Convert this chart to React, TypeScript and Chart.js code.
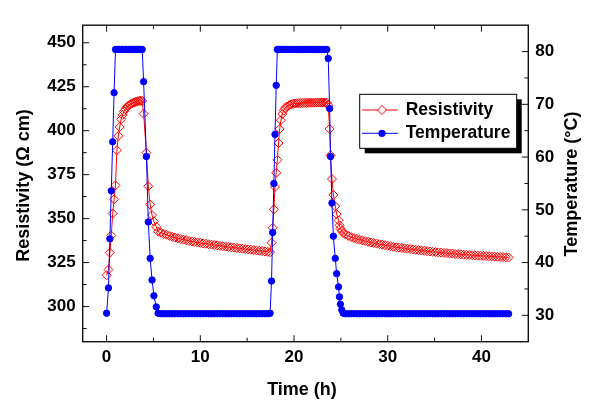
import React, { useEffect, useRef } from 'react';
import { Chart, registerables } from 'chart.js';

Chart.register(...registerables);

// ---- Data ----
// Cycle 1: heating ramp, 80 °C plateau, cooling, 30 °C relaxation
const cycle1Time = [
  0, 0.2, 0.35, 0.5, 0.65, 0.8, 0.95, 1.1, 1.25, 1.4, 1.55,
  1.7, 1.85, 2.0, 2.15, 2.3, 2.45, 2.6, 2.75, 2.9, 3.05, 3.2, 3.35, 3.5, 3.65, 3.8,
  3.95, 4.25, 4.45, 4.65, 4.85, 5.05, 5.3, 5.5,
  5.8, 6.1, 6.4, 6.7, 7.0, 7.3, 7.6, 7.9, 8.2, 8.5, 8.8, 9.1, 9.4, 9.7, 10.0, 10.3, 10.6, 10.9, 11.2, 11.5,
  11.8, 12.1, 12.4, 12.7, 13.0, 13.3, 13.6, 13.9, 14.2, 14.5, 14.8, 15.1, 15.4, 15.7, 16.0, 16.3, 16.6, 16.9, 17.2,
];
const cycle1Res = [
  317.8, 321.0, 330.6, 340.4, 352.9, 361.0, 368.9, 388.9, 397.0, 402.1, 406.5,
  409.0, 411.0, 412.3, 413.3, 414.1, 414.7, 415.2, 415.6, 416.0, 416.3, 416.6, 416.8, 417.0, 417.0, 416.9,
  409.7, 387.5, 368.4, 358.0, 352.0, 348.4, 345.3, 342.6,
  342.0, 341.3, 340.8, 340.2, 339.6, 339.2, 338.8, 338.4, 338.0, 337.7, 337.3, 337.0, 336.7, 336.4, 336.2, 335.9, 335.7, 335.4, 335.2, 335.0,
  334.8, 334.5, 334.3, 334.1, 333.9, 333.7, 333.5, 333.3, 333.1, 332.9, 332.7, 332.5, 332.3, 332.1, 331.9, 331.7, 331.5, 331.3, 331.1,
];
const cycle1Temp = [
  30.4, 35.2, 44.5, 53.6, 62.9, 72.2, 80.4, 80.4, 80.4, 80.4, 80.4,
  80.4, 80.4, 80.4, 80.4, 80.4, 80.4, 80.4, 80.4, 80.4, 80.4, 80.4, 80.4, 80.4, 80.4, 80.4,
  74.3, 60.1, 47.7, 40.8, 36.7, 33.7, 31.6, 30.4,
  30.3, 30.3, 30.3, 30.3, 30.3, 30.3, 30.3, 30.3, 30.3, 30.3, 30.3, 30.3, 30.3, 30.3, 30.3, 30.3, 30.3, 30.3, 30.3, 30.3,
  30.3, 30.3, 30.3, 30.3, 30.3, 30.3, 30.3, 30.3, 30.3, 30.3, 30.3, 30.3, 30.3, 30.3, 30.3, 30.3, 30.3, 30.3, 30.3,
];

// Cycle 2
const cycle2Time = [
  17.45, 17.6, 17.72, 17.85, 17.97, 18.1, 18.22, 18.35, 18.47, 18.6, 18.75, 18.9, 19.05, 19.2,
  19.5, 19.7, 19.9, 20.1, 20.3, 20.5, 20.7, 20.9, 21.1, 21.3, 21.5, 21.7, 21.9, 22.1, 22.3, 22.5, 22.7, 22.9, 23.1, 23.3, 23.5,
  23.65, 23.8, 23.9, 24.05, 24.2, 24.4, 24.55, 24.75, 24.85, 24.95, 25.1, 25.25,
  25.5, 25.8, 26.1, 26.4, 26.7, 27.0, 27.3, 27.6, 27.9, 28.2, 28.5, 28.8, 29.1, 29.4, 29.7, 30.0, 30.3, 30.6, 30.9, 31.2,
  31.5, 31.8, 32.1, 32.4, 32.7, 33.0, 33.3, 33.6, 33.9, 34.2, 34.5, 34.8, 35.1, 35.4, 35.7, 36.0, 36.3, 36.6, 36.9, 37.2,
  37.5, 37.8, 38.1, 38.4, 38.7, 39.0, 39.3, 39.6, 39.9, 40.2, 40.5, 40.8, 41.1, 41.4, 41.7, 42.0, 42.3, 42.6, 42.9,
];
const cycle2Res = [
  330.9, 336.3, 344.8, 355.3, 368.0, 376.0, 383.4, 393.0, 401.0, 406.0, 409.5, 411.5, 412.8, 413.7,
  414.5, 415.0, 415.3, 415.5, 415.6, 415.7, 415.7, 415.8, 415.8, 415.8, 415.9, 415.9, 415.9, 415.9, 416.0, 416.0, 416.0, 416.0, 416.0, 416.0, 415.9,
  414.5, 401.0, 386.0, 372.5, 363.5, 357.0, 352.6, 349.0, 346.2, 344.4, 343.0, 341.8,
  341.0, 340.2, 339.5, 338.9, 338.4, 338.0, 337.6, 337.2, 336.8, 336.4, 336.1, 335.8, 335.5, 335.2, 334.9, 334.6, 334.3, 334.0, 333.7, 333.5,
  333.3, 333.1, 332.9, 332.7, 332.5, 332.3, 332.1, 331.9, 331.7, 331.5, 331.3, 331.1, 331.0, 330.8, 330.7, 330.5, 330.4, 330.2, 330.1, 329.9,
  329.8, 329.7, 329.5, 329.4, 329.3, 329.2, 329.1, 329.0, 328.9, 328.8, 328.7, 328.6, 328.5, 328.4, 328.3, 328.2, 328.1, 328.0, 327.9,
];
const cycle2Temp = [
  30.4, 36.5, 45.7, 55.0, 64.3, 73.6, 80.4, 80.4, 80.4, 80.4, 80.4, 80.4, 80.4, 80.4,
  80.4, 80.4, 80.4, 80.4, 80.4, 80.4, 80.4, 80.4, 80.4, 80.4, 80.4, 80.4, 80.4, 80.4, 80.4, 80.4, 80.4, 80.4, 80.4, 80.4, 80.4,
  78.7, 69.2, 60.1, 51.3, 45.0, 40.8, 37.9, 35.4, 33.5, 32.1, 31.0, 30.4,
  30.3, 30.3, 30.3, 30.3, 30.3, 30.3, 30.3, 30.3, 30.3, 30.3, 30.3, 30.3, 30.3, 30.3, 30.3, 30.3, 30.3, 30.3, 30.3, 30.3,
  30.3, 30.3, 30.3, 30.3, 30.3, 30.3, 30.3, 30.3, 30.3, 30.3, 30.3, 30.3, 30.3, 30.3, 30.3, 30.3, 30.3, 30.3, 30.3, 30.3,
  30.3, 30.3, 30.3, 30.3, 30.3, 30.3, 30.3, 30.3, 30.3, 30.3, 30.3, 30.3, 30.3, 30.3, 30.3, 30.3, 30.3, 30.3, 30.3,
];

// Axis ticks
const xTicks = [0, 10, 20, 30, 40];
const xMinorTicks = [5, 15, 25, 35];
const resTicks = [300, 325, 350, 375, 400, 425, 450];
const resMinorTicks = [287.5, 312.5, 337.5, 362.5, 387.5, 412.5, 437.5];
const tempTicks = [30, 40, 50, 60, 70, 80];
const tempMinorTicks = [35, 45, 55, 65, 75];

const seriesNames = ['Resistivity', 'Temperature'];
const xTitle = 'Time (h)';
const resTitle = 'Resistivity (\u03A9 cm)';
const tempTitle = 'Temperature (\u00B0C)';

const FONT = '"Liberation Sans", Arial, Helvetica, sans-serif';
const RED = '#ff0000';
const BLUE = '#0000ff';

function toPoints(t: number[], v: number[]) {
  const n = Math.min(t.length, v.length);
  const out: { x: number; y: number }[] = [];
  for (let i = 0; i < n; i++) out.push({ x: t[i], y: v[i] });
  return out;
}

const framePlugin = {
  id: 'frameAndLegend',
  afterDatasetsDraw(chart: any) {
    const { ctx, chartArea: a, scales } = chart;
    const sx = scales.x, sy = scales.y, sy1 = scales.y1;
    ctx.save();
    // frame
    ctx.strokeStyle = '#111';
    ctx.lineWidth = 1.4;
    ctx.strokeRect(a.left, a.top, a.right - a.left, a.bottom - a.top);
    ctx.lineWidth = 1;
    const seg = (x0: number, y0: number, x1: number, y1: number) => {
      ctx.beginPath();
      ctx.moveTo(x0, y0);
      ctx.lineTo(x1, y1);
      ctx.stroke();
    };
    const MAJ = 6.5, MIN = 4;
    xTicks.forEach((v) => { const p = sx.getPixelForValue(v); seg(p, a.bottom, p, a.bottom - MAJ); seg(p, a.top, p, a.top + MAJ); });
    xMinorTicks.forEach((v) => { const p = sx.getPixelForValue(v); seg(p, a.bottom, p, a.bottom - MIN); seg(p, a.top, p, a.top + MIN); });
    resTicks.forEach((v) => { const p = sy.getPixelForValue(v); seg(a.left, p, a.left + MAJ, p); });
    resMinorTicks.forEach((v) => { const p = sy.getPixelForValue(v); seg(a.left, p, a.left + MIN, p); });
    tempTicks.forEach((v) => { const p = sy1.getPixelForValue(v); seg(a.right, p, a.right - MAJ, p); });
    tempMinorTicks.forEach((v) => { const p = sy1.getPixelForValue(v); seg(a.right, p, a.right - MIN, p); });

    // axis titles
    ctx.fillStyle = '#000';
    ctx.font = `bold 18px ${FONT}`;
    ctx.textAlign = 'center';
    ctx.textBaseline = 'alphabetic';
    ctx.fillText(xTitle, 294, 387);
    ctx.save();
    ctx.translate(21.2, 177.5);
    ctx.rotate(-Math.PI / 2);
    ctx.fillText(resTitle, 0, 0);
    ctx.restore();
    ctx.save();
    ctx.translate(568.5, 176);
    ctx.rotate(-Math.PI / 2);
    ctx.fillText(tempTitle, 0, 0);
    ctx.restore();

    // legend box with shadow
    const bx = 351.7, by = 86.3, bw = 157, bh = 54;
    ctx.fillStyle = '#000';
    ctx.fillRect(bx + 5, by + 5, bw, bh);
    ctx.fillStyle = '#fff';
    ctx.fillRect(bx, by, bw, bh);
    ctx.strokeStyle = '#000';
    ctx.lineWidth = 1;
    ctx.strokeRect(bx, by, bw, bh);

    const rows = [102, 125.3];
    const lx0 = 354, lx1 = 390, mx = 374;
    // Resistivity row
    ctx.strokeStyle = RED;
    seg(lx0, rows[0], lx1, rows[0]);
    ctx.beginPath();
    ctx.moveTo(mx - 4.5, rows[0]);
    ctx.lineTo(mx, rows[0] - 4.5);
    ctx.lineTo(mx + 4.5, rows[0]);
    ctx.lineTo(mx, rows[0] + 4.5);
    ctx.closePath();
    ctx.fillStyle = '#fff';
    ctx.fill();
    ctx.stroke();
    // Temperature row
    ctx.strokeStyle = BLUE;
    seg(lx0, rows[1], lx1, rows[1]);
    ctx.beginPath();
    ctx.arc(mx, rows[1], 3.6, 0, Math.PI * 2);
    ctx.fillStyle = BLUE;
    ctx.fill();

    ctx.fillStyle = '#000';
    ctx.font = `bold 17.5px ${FONT}`;
    ctx.textAlign = 'left';
    ctx.textBaseline = 'middle';
    ctx.fillText(seriesNames[0], 397.7, rows[0]);
    ctx.fillText(seriesNames[1], 397.7, rows[1]);
    ctx.restore();
  },
};

export default function App() {
  const ref = useRef<HTMLCanvasElement | null>(null);
  useEffect(() => {
    if (!ref.current) return;
    const tickFont = { family: FONT, size: 17, weight: 'bold' as const };
    const chart = new Chart(ref.current, {
      type: 'line',
      data: {
        datasets: [
          {
            label: seriesNames[0],
            data: [...toPoints(cycle1Time, cycle1Res), ...toPoints(cycle2Time, cycle2Res)],
            yAxisID: 'y',
            borderColor: RED,
            borderWidth: 1,
            pointStyle: 'rectRot',
            pointRadius: 4.5,
            pointBorderColor: RED,
            pointBackgroundColor: 'rgba(255,255,255,0)',
            pointBorderWidth: 1,
            tension: 0,
            order: 1,
          },
          {
            label: seriesNames[1],
            data: [...toPoints(cycle1Time, cycle1Temp), ...toPoints(cycle2Time, cycle2Temp)],
            yAxisID: 'y1',
            borderColor: BLUE,
            borderWidth: 1,
            pointStyle: 'circle',
            pointRadius: 3.2,
            pointBorderColor: BLUE,
            pointBackgroundColor: BLUE,
            pointBorderWidth: 1,
            tension: 0,
            order: 0,
          },
        ],
      },
      options: {
        responsive: false,
        animation: false,
        layout: { padding: { top: 2.7, left: 0, right: 0, bottom: 0 } },
        plugins: { legend: { display: false }, tooltip: { enabled: false } },
        scales: {
          x: {
            type: 'linear',
            min: -2.55,
            max: 45,
            grid: { display: false, drawTicks: false },
            border: { display: false },
            ticks: { font: tickFont, color: '#000', padding: 5.5, maxRotation: 0 },
            afterBuildTicks: (s: any) => { s.ticks = xTicks.map((v) => ({ value: v })); },
            afterFit: (s: any) => { s.height = 61.3; },
          },
          y: {
            type: 'linear',
            position: 'left',
            min: 280,
            max: 460,
            grid: { display: false, drawTicks: false },
            border: { display: false },
            ticks: { font: tickFont, color: '#000', padding: 7 },
            afterBuildTicks: (s: any) => { s.ticks = resTicks.map((v) => ({ value: v })); },
            afterFit: (s: any) => { s.width = 74.7; },
          },
          y1: {
            type: 'linear',
            position: 'right',
            min: 25,
            max: 85,
            grid: { display: false, drawTicks: false },
            border: { display: false },
            ticks: { font: tickFont, color: '#000', padding: 7 },
            afterBuildTicks: (s: any) => { s.ticks = tempTicks.map((v) => ({ value: v })); },
            afterFit: (s: any) => { s.width = 54.7; },
          },
        },
      },
      plugins: [framePlugin],
    });
    return () => chart.destroy();
  }, []);
  return (
    <div style={{ width: 575, height: 395 }}>
      <canvas ref={ref} width={575} height={395} style={{ display: 'block' }} />
    </div>
  );
}
